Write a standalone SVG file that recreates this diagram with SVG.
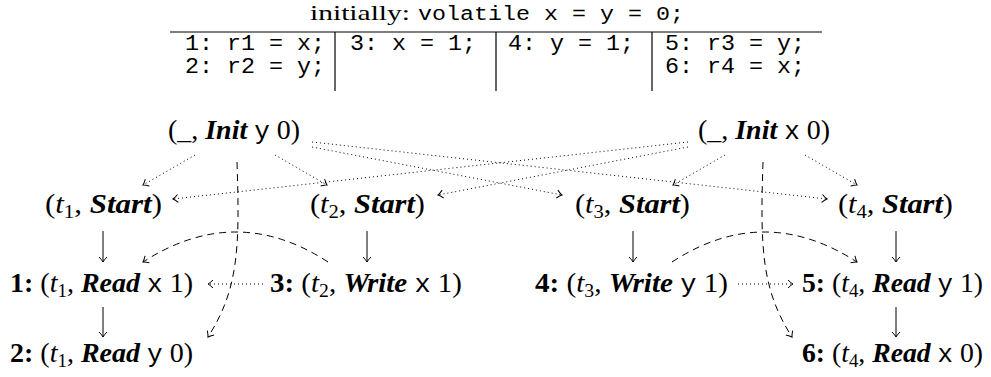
<svg xmlns="http://www.w3.org/2000/svg" width="991" height="377" viewBox="0 0 991 377">
<defs>
<style>
.serif{font-family:"Liberation Serif","DejaVu Serif",serif;fill:#000}
.n{font-family:"Liberation Serif","DejaVu Serif",serif;font-size:28px;fill:#000}
.mono{font-family:"Liberation Mono","DejaVu Sans Mono",monospace;fill:#000}
.tt{font-family:"Liberation Mono","DejaVu Sans Mono",monospace;font-size:26px}
.bi{font-weight:bold;font-style:italic}
.it{font-style:italic}
.b{font-weight:bold}
.sub{font-size:19px}
.row{font-family:"Liberation Mono","DejaVu Sans Mono",monospace;font-size:22px;fill:#000}
.rule{stroke:#000;stroke-width:1.2;fill:none}
.solid{stroke:#000;stroke-width:1;fill:none}
.dot{stroke:#000;stroke-width:1;fill:none;stroke-dasharray:1 3}
.dash{stroke:#000;stroke-width:1;fill:none;stroke-dasharray:7 5}
</style>
<marker id="ah" viewBox="-8 -6 10 12" markerWidth="10" markerHeight="12" refX="0" refY="0" orient="auto" markerUnits="userSpaceOnUse">
<path d="M-5,-4 Q-2,-1 0,0 Q-2,1 -5,4" fill="none" stroke="#000" stroke-width="1"/>
</marker>
</defs>
<rect width="991" height="377" fill="#fff"/>

<g id="program">
<text class="serif" x="310" y="20" textLength="100" lengthAdjust="spacingAndGlyphs" style="font-size:22px">initially:</text>
<text class="mono" x="418" y="20" textLength="266" lengthAdjust="spacingAndGlyphs" style="font-size:20px">volatile x = y = 0;</text>
<line class="rule" x1="170" y1="32" x2="822" y2="32"/>
<line class="rule" x1="335" y1="32" x2="335" y2="91"/>
<line class="rule" x1="496" y1="32" x2="496" y2="91"/>
<line class="rule" x1="652" y1="32" x2="652" y2="91"/>
<text class="row" x="185" y="50" textLength="140" lengthAdjust="spacingAndGlyphs">1: r1 = x;</text>
<text class="row" x="185" y="73" textLength="140" lengthAdjust="spacingAndGlyphs">2: r2 = y;</text>
<text class="row" x="350" y="50" textLength="126" lengthAdjust="spacingAndGlyphs">3: x = 1;</text>
<text class="row" x="508" y="50" textLength="126" lengthAdjust="spacingAndGlyphs">4: y = 1;</text>
<text class="row" x="665" y="50" textLength="140" lengthAdjust="spacingAndGlyphs">5: r3 = y;</text>
<text class="row" x="665" y="73" textLength="140" lengthAdjust="spacingAndGlyphs">6: r4 = x;</text>
</g>

<g id="n-init-y"><text class="n" x="168" y="139" textLength="132" lengthAdjust="spacingAndGlyphs">(_, <tspan class="bi">Init</tspan> <tspan class="tt">y</tspan> 0)</text></g>
<g id="n-init-x"><text class="n" x="698" y="139" textLength="132" lengthAdjust="spacingAndGlyphs">(_, <tspan class="bi">Init</tspan> <tspan class="tt">x</tspan> 0)</text></g>

<g id="n-t1-start"><text class="n" x="45" y="213" textLength="117" lengthAdjust="spacingAndGlyphs">(<tspan class="it">t</tspan><tspan class="sub" dy="5">1</tspan><tspan dy="-5">, </tspan><tspan class="bi">Start</tspan>)</text></g>
<g id="n-t2-start"><text class="n" x="310" y="213" textLength="115" lengthAdjust="spacingAndGlyphs">(<tspan class="it">t</tspan><tspan class="sub" dy="5">2</tspan><tspan dy="-5">, </tspan><tspan class="bi">Start</tspan>)</text></g>
<g id="n-t3-start"><text class="n" x="575" y="213" textLength="115" lengthAdjust="spacingAndGlyphs">(<tspan class="it">t</tspan><tspan class="sub" dy="5">3</tspan><tspan dy="-5">, </tspan><tspan class="bi">Start</tspan>)</text></g>
<g id="n-t4-start"><text class="n" x="838" y="213" textLength="115" lengthAdjust="spacingAndGlyphs">(<tspan class="it">t</tspan><tspan class="sub" dy="5">4</tspan><tspan dy="-5">, </tspan><tspan class="bi">Start</tspan>)</text></g>

<g id="n-e1"><text class="n" x="10" y="292" textLength="183" lengthAdjust="spacingAndGlyphs"><tspan class="b">1:</tspan> (<tspan class="it">t</tspan><tspan class="sub" dy="5">1</tspan><tspan dy="-5">, </tspan><tspan class="bi">Read</tspan> <tspan class="tt">x</tspan> 1)</text></g>
<g id="n-e3"><text class="n" x="270" y="292" textLength="192" lengthAdjust="spacingAndGlyphs"><tspan class="b">3:</tspan> (<tspan class="it">t</tspan><tspan class="sub" dy="5">2</tspan><tspan dy="-5">, </tspan><tspan class="bi">Write</tspan> <tspan class="tt">x</tspan> 1)</text></g>
<g id="n-e2"><text class="n" x="10" y="362" textLength="183" lengthAdjust="spacingAndGlyphs"><tspan class="b">2:</tspan> (<tspan class="it">t</tspan><tspan class="sub" dy="5">1</tspan><tspan dy="-5">, </tspan><tspan class="bi">Read</tspan> <tspan class="tt">y</tspan> 0)</text></g>
<g id="n-e4"><text class="n" x="535" y="292" textLength="193" lengthAdjust="spacingAndGlyphs"><tspan class="b">4:</tspan> (<tspan class="it">t</tspan><tspan class="sub" dy="5">3</tspan><tspan dy="-5">, </tspan><tspan class="bi">Write</tspan> <tspan class="tt">y</tspan> 1)</text></g>
<g id="n-e5"><text class="n" x="802" y="292" textLength="181" lengthAdjust="spacingAndGlyphs"><tspan class="b">5:</tspan> (<tspan class="it">t</tspan><tspan class="sub" dy="5">4</tspan><tspan dy="-5">, </tspan><tspan class="bi">Read</tspan> <tspan class="tt">y</tspan> 1)</text></g>
<g id="n-e6"><text class="n" x="802" y="362" textLength="181" lengthAdjust="spacingAndGlyphs"><tspan class="b">6:</tspan> (<tspan class="it">t</tspan><tspan class="sub" dy="5">4</tspan><tspan dy="-5">, </tspan><tspan class="bi">Read</tspan> <tspan class="tt">x</tspan> 0)</text></g>

<g id="connectors">
<line class="solid" x1="103" y1="231" x2="103" y2="262" marker-end="url(#ah)"/>
<line class="solid" x1="367" y1="231" x2="367" y2="262" marker-end="url(#ah)"/>
<line class="solid" x1="633" y1="231" x2="633" y2="262" marker-end="url(#ah)"/>
<line class="solid" x1="896" y1="231" x2="896" y2="262" marker-end="url(#ah)"/>
<line class="solid" x1="103" y1="307" x2="103" y2="337" marker-end="url(#ah)"/>
<line class="solid" x1="896" y1="307" x2="896" y2="337" marker-end="url(#ah)"/>

<path class="dot" d="M195,155 L143,185" marker-end="url(#ah)"/>
<path class="dot" d="M275,155 L327,185" marker-end="url(#ah)"/>
<path class="dot" d="M725,155 L673,185" marker-end="url(#ah)"/>
<path class="dot" d="M805,155 L857,185" marker-end="url(#ah)"/>
<path class="dot" d="M312,142 L827,199" marker-end="url(#ah)"/>
<path class="dot" d="M312,147 L562,195" marker-end="url(#ah)"/>
<path class="dot" d="M688,142 L173,199" marker-end="url(#ah)"/>
<path class="dot" d="M688,147 L438,195" marker-end="url(#ah)"/>
<path class="dot" d="M263,284 L208,284" marker-end="url(#ah)"/>
<path class="dot" d="M738,284 L793,284" marker-end="url(#ah)"/>

<path class="dash" d="M328,262 Q236,202 143,262" marker-end="url(#ah)"/>
<path class="dash" d="M672,262 Q764,202 857,262" marker-end="url(#ah)"/>
<path class="dash" d="M237,162 C240,250 238,290 208,337" marker-end="url(#ah)"/>
<path class="dash" d="M763,162 C760,250 762,290 792,337" marker-end="url(#ah)"/>
</g>
</svg>
